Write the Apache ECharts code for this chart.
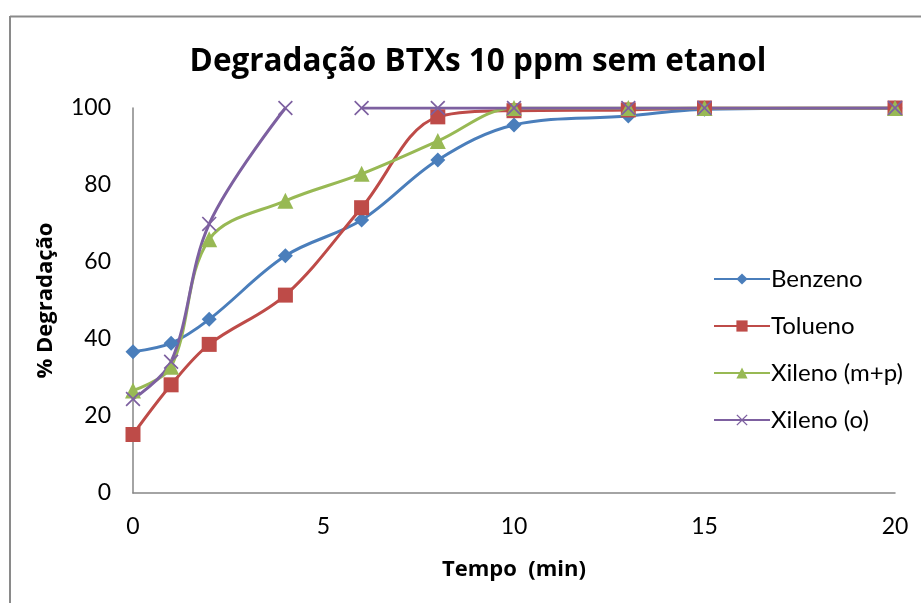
<!DOCTYPE html>
<html>
<head>
<meta charset="utf-8">
<script src="https://cdn.jsdelivr.net/npm/echarts@6/dist/echarts.min.js"></script>
<style>html,body{margin:0;padding:0;background:#fff;}#c{width:921px;height:603px;}</style>
</head>
<body>
<div id="c"></div>
<script>
const times = [0, 1, 2, 4, 6, 8, 10, 13, 15, 20];
const benzeno = [36.7, 38.9, 45.1, 61.6, 70.9, 86.5, 95.6, 97.9, 99.7, 100];
const tolueno = [15.2, 28.1, 38.6, 51.4, 74.1, 97.7, 99.3, 99.5, 100, 100];
const xilenoMP = [26.6, 32.8, 65.9, 75.9, 82.9, 91.4, 100, 100, 100, 100];
// Xileno (o): line is broken between 4 and 6 min (null = gap)
const xilenoOTimes = [0, 1, 2, 4, 5, 6, 8, 10, 13, 15, 20];
const xilenoO = [24.4, 34.1, 69.9, 100, null, 100, 100, 100, 100, 100, 100];
const xTicks = [0, 5, 10, 15, 20];
const yTicks = [0, 20, 40, 60, 80, 100];

const pairs = (xs, ys) => xs.map((x, i) => [x, ys[i] == null ? '-' : ys[i]]);
const xPath = 'path://M0,0.8L0.8,0L5,4.2L9.2,0L10,0.8L5.8,5L10,9.2L9.2,10L5,5.8L0.8,10L0,9.2L4.2,5Z';
const font = 'Lato, "Open Sans", sans-serif';

const chart = echarts.init(document.getElementById('c'), null, {renderer: 'canvas'});
chart.setOption({
  animation: false,
  backgroundColor: '#fff',
  title: {
    text: 'Degradação BTXs 10 ppm sem etanol',
    left: 473, top: 41, textAlign: 'center',
    textStyle: {fontFamily: '"Open Sans", sans-serif', fontWeight: 'bold', fontSize: 31.5, color: '#000'}
  },
  graphic: [
    {type: 'line', shape: {x1: 10, y1: 16.5, x2: 921, y2: 16.5}, style: {stroke: '#8a8a8a', lineWidth: 2}},
    {type: 'line', shape: {x1: 10, y1: 16, x2: 10, y2: 603}, style: {stroke: '#8a8a8a', lineWidth: 2}}
  ],
  grid: {left: 133, right: 26, top: 108, bottom: 110, containLabel: false},
  legend: {
    orient: 'vertical', left: 708, top: 262,
    itemWidth: 56, itemHeight: 14, itemGap: 23,
    textStyle: {fontFamily: font, fontSize: 24, lineHeight: 22, color: '#000', padding: [0, 0, 0, -4]},
    data: ['Benzeno', 'Tolueno', 'Xileno (m+p)', 'Xileno (o)']
  },
  xAxis: {
    type: 'value', min: 0, max: 20, interval: 5,
    name: 'Tempo  (min)', nameLocation: 'middle', nameGap: 66,
    nameTextStyle: {fontFamily: '"Open Sans", sans-serif', fontWeight: 'bold', fontSize: 22, color: '#000'},
    axisLine: {lineStyle: {color: '#868686', width: 1.5}},
    axisTick: {show: false},
    splitLine: {show: false},
    axisLabel: {fontFamily: font, fontSize: 23, color: '#000', margin: 22,
      formatter: v => xTicks.includes(v) ? String(v) : ''}
  },
  yAxis: {
    type: 'value', min: 0, max: 100, interval: 20,
    name: '% Degradação', nameLocation: 'middle', nameGap: 76, nameRotate: 90,
    nameTextStyle: {fontFamily: '"Open Sans", sans-serif', fontWeight: 'bold', fontSize: 22, color: '#000'},
    axisLine: {show: true, lineStyle: {color: '#868686', width: 1.5}},
    axisTick: {show: false},
    splitLine: {show: false},
    axisLabel: {fontFamily: font, fontSize: 23, color: '#000', margin: 22,
      formatter: v => yTicks.includes(v) ? String(v) : ''}
  },
  series: [
    {name: 'Benzeno', type: 'line', smooth: 0.35, data: pairs(times, benzeno),
      symbol: 'diamond', symbolSize: 15, color: '#4A7EBB', lineStyle: {width: 3}},
    {name: 'Tolueno', type: 'line', smooth: 0.35, data: pairs(times, tolueno),
      symbol: 'rect', symbolSize: 15, color: '#BE4B48', lineStyle: {width: 3}},
    {name: 'Xileno (m+p)', type: 'line', smooth: 0.35, data: pairs(times, xilenoMP),
      symbol: 'triangle', symbolSize: 16, color: '#98B954', lineStyle: {width: 3}},
    {name: 'Xileno (o)', type: 'line', smooth: 0.35, connectNulls: false, data: pairs(xilenoOTimes, xilenoO),
      symbol: xPath, symbolSize: 15, color: '#7D60A0', lineStyle: {width: 3}}
  ]
});
</script>
</body>
</html>
